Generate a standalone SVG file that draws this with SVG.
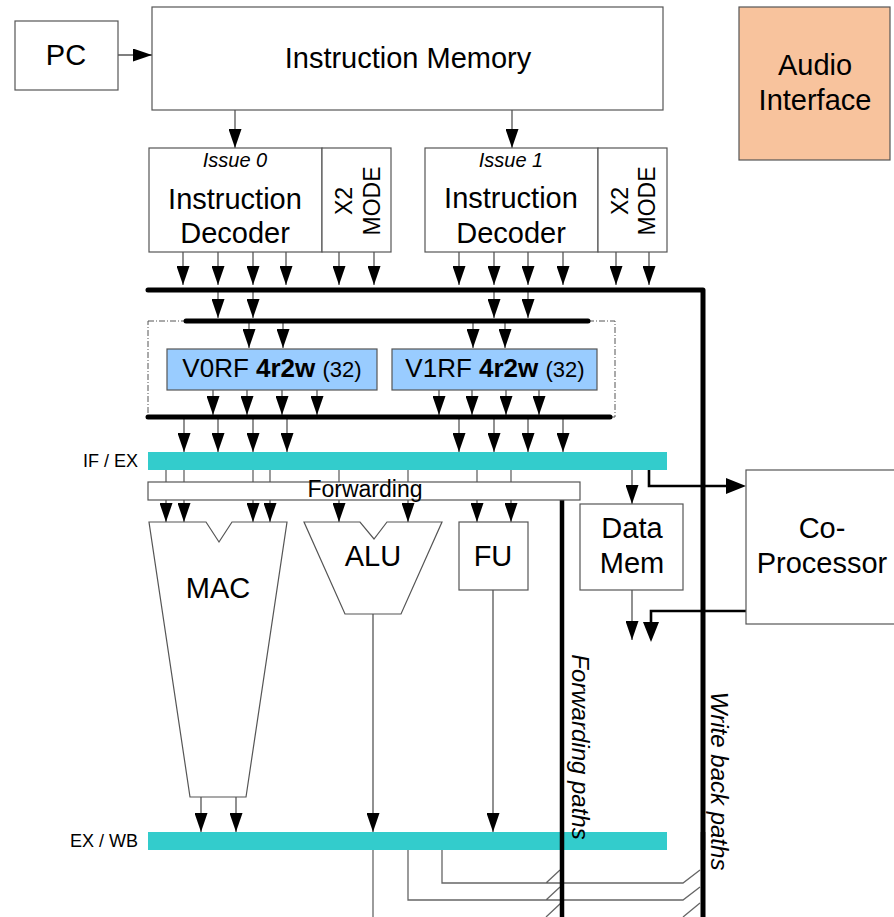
<svg xmlns="http://www.w3.org/2000/svg" width="894" height="917" viewBox="0 0 894 917">
<defs>
<marker id="ah" markerUnits="userSpaceOnUse" markerWidth="19" markerHeight="13" viewBox="0 0 19 13" refX="19" refY="6.5" orient="auto"><path d="M0,0 L19,6.5 L0,13 z" fill="#000"/></marker>
<marker id="ahb" markerUnits="userSpaceOnUse" markerWidth="20" markerHeight="16" viewBox="0 0 20 16" refX="12" refY="8" orient="auto"><path d="M0,0 L20,8 L0,16 z" fill="#000"/></marker>
<style>
.box{fill:#fff;stroke:#555;stroke-width:1.2}
.t{font-family:"Liberation Sans",Arial,sans-serif;fill:#000}
.big{font-size:29px;text-anchor:middle}
.ln{fill:none;stroke:#666;stroke-width:1.3}
.ar{fill:none;stroke:#555;stroke-width:1.3;marker-end:url(#ah)}
.arb{fill:none;stroke:#000;stroke-width:2.6;marker-end:url(#ahb)}
.bus{fill:none;stroke:#000;stroke-width:5;stroke-linecap:round;stroke-linejoin:round}
.teal{fill:#33CCCC}
.it{font-style:italic}
</style>
</defs>
<rect width="894" height="917" fill="#fff"/>

<g id="rf-frame">
<rect x="148" y="321" width="467" height="96" fill="none" stroke="#555" stroke-width="1" stroke-dasharray="6 2 1 2"/>
</g>

<g id="connectors">
<path class="ar" d="M118,55 H152"/>
<path class="ar" d="M235,110 V148"/>
<path class="ar" d="M512,110 V148"/>
<path class="ar" d="M183,252 V285"/><path class="ar" d="M218,252 V285"/><path class="ar" d="M253,252 V285"/><path class="ar" d="M286,252 V285"/><path class="ar" d="M339,252 V285"/><path class="ar" d="M374,252 V285"/>
<path class="ar" d="M459,252 V285"/><path class="ar" d="M494,252 V285"/><path class="ar" d="M528,252 V285"/><path class="ar" d="M563,252 V285"/><path class="ar" d="M616,252 V285"/><path class="ar" d="M649,252 V285"/>
<path class="ar" d="M218,290 V318"/><path class="ar" d="M253,290 V318"/><path class="ar" d="M494,290 V318"/><path class="ar" d="M528,290 V318"/>
<path class="ar" d="M249,321 V348"/><path class="ar" d="M283,321 V348"/><path class="ar" d="M473,321 V348"/><path class="ar" d="M505,321 V348"/>
<path class="ar" d="M213,390 V415"/><path class="ar" d="M247,390 V415"/><path class="ar" d="M282,390 V415"/><path class="ar" d="M317,390 V415"/>
<path class="ar" d="M439,390 V415"/><path class="ar" d="M472,390 V415"/><path class="ar" d="M506,390 V415"/><path class="ar" d="M539,390 V415"/>
<path class="ar" d="M184,417 V452"/><path class="ar" d="M218,417 V452"/><path class="ar" d="M253,417 V452"/><path class="ar" d="M287,417 V452"/>
<path class="ar" d="M459,417 V452"/><path class="ar" d="M494,417 V452"/><path class="ar" d="M528,417 V452"/><path class="ar" d="M563,417 V452"/>
<path class="ln" d="M166,470 V482 M184,470 V482 M253,470 V482 M270,470 V482 M339,470 V482 M408,470 V482 M477,470 V482 M511,470 V482"/>
<path class="ar" d="M166,500 V522"/><path class="ar" d="M184,500 V522"/><path class="ar" d="M253,500 V522"/><path class="ar" d="M270,500 V522"/>
<path class="ar" d="M339,500 V522"/><path class="ar" d="M408,500 V522"/><path class="ar" d="M477,500 V522"/><path class="ar" d="M511,500 V522"/>
<path class="ar" d="M632,470 V504"/>
<path class="ar" d="M632,590 V640"/>
<path class="ar" d="M201,797 V832"/><path class="ar" d="M236,797 V832"/>
<path class="ar" d="M373,614 V832"/>
<path class="ar" d="M493,590 V832"/>
<path class="ln" d="M373,850 V917"/>
<path class="ln" d="M442,850 V883 H683 L700,870 M546,883 L560,870"/>
<path class="ln" d="M408,850 V900 H683 L700,887 M546,900 L560,887"/>
<path class="ln" d="M546,917 L561,903 M683,917 L700,903"/>
<path class="bus" d="M148,290 H703 V920"/>
<path class="bus" d="M186,321 H588"/>
<path class="bus" d="M148,417 H610"/>
<path fill="none" stroke="#000" stroke-width="4.5" d="M562,500 V920"/>
<path class="arb" d="M649,470 V486 H738"/>
<path class="arb" d="M746,611 H651 V634"/>
</g>

<g id="pc"><rect class="box" x="15" y="21" width="103" height="69"/><text class="t big" x="66" y="65">PC</text></g>
<g id="instruction-memory"><rect class="box" x="152" y="7" width="511" height="103"/><text class="t big" x="408" y="68">Instruction Memory</text></g>
<g id="audio-interface"><rect x="739" y="7" width="151" height="153" fill="#F8C39D" stroke="#555" stroke-width="1.2"/><text class="t big" x="815" y="75">Audio</text><text class="t big" x="815" y="110">Interface</text></g>

<g id="decoder0"><rect class="box" x="149" y="148" width="173" height="104"/>
<text class="t it" x="235" y="167" font-size="20" text-anchor="middle">Issue 0</text>
<text class="t big" x="235" y="209">Instruction</text><text class="t big" x="235" y="243">Decoder</text></g>
<g id="x2mode0"><rect class="box" x="322" y="148" width="69" height="104"/>
<text class="t" font-size="23" text-anchor="middle" transform="translate(352,201) rotate(-90)">X2</text>
<text class="t" font-size="23" text-anchor="middle" transform="translate(380,201) rotate(-90)">MODE</text></g>
<g id="decoder1"><rect class="box" x="425" y="148" width="173" height="104"/>
<text class="t it" x="511" y="167" font-size="20" text-anchor="middle">Issue 1</text>
<text class="t big" x="511" y="208">Instruction</text><text class="t big" x="511" y="243">Decoder</text></g>
<g id="x2mode1"><rect class="box" x="598" y="148" width="69" height="104"/>
<text class="t" font-size="23" text-anchor="middle" transform="translate(628,201) rotate(-90)">X2</text>
<text class="t" font-size="23" text-anchor="middle" transform="translate(655,201) rotate(-90)">MODE</text></g>

<g id="v0rf"><rect x="167" y="349" width="210" height="41" fill="#99CCFF" stroke="#555" stroke-width="1.2"/>
<text class="t" x="272" y="377" font-size="26" text-anchor="middle">V0RF <tspan font-weight="bold">4r2w</tspan> <tspan font-size="22">(32)</tspan></text></g>
<g id="v1rf"><rect x="392" y="349" width="205" height="41" fill="#99CCFF" stroke="#555" stroke-width="1.2"/>
<text class="t" x="495" y="377" font-size="26" text-anchor="middle">V1RF <tspan font-weight="bold">4r2w</tspan> <tspan font-size="22">(32)</tspan></text></g>

<g id="if-ex"><rect class="teal" x="148" y="452" width="519" height="18"/><text class="t" x="138" y="467" font-size="18" text-anchor="end">IF / EX</text></g>
<g id="forwarding"><rect class="box" x="148" y="482" width="432" height="18"/><text class="t" x="365" y="497" font-size="23" text-anchor="middle">Forwarding</text></g>

<g id="mac"><polygon class="box" points="149,522 206,522 219,542 232,522 287,522 246,797 190,797"/><text class="t big" x="218" y="598">MAC</text></g>
<g id="alu"><polygon class="box" points="304,522 360,522 374,539 387,522 442,522 401,614 345,614"/><text class="t big" x="373" y="566">ALU</text></g>
<g id="fu"><rect class="box" x="459" y="522" width="69" height="68"/><text class="t big" x="493" y="566">FU</text></g>
<g id="data-mem"><rect class="box" x="580" y="504" width="103" height="86"/><text class="t big" x="632" y="538">Data</text><text class="t big" x="632" y="573">Mem</text></g>
<g id="co-processor"><rect class="box" x="746" y="470" width="160" height="154"/><text class="t big" x="822" y="538">Co-</text><text class="t big" x="822" y="573">Processor</text></g>

<g id="ex-wb"><rect class="teal" x="148" y="832" width="519" height="18"/><text class="t" x="138" y="847" font-size="18" text-anchor="end">EX / WB</text></g>
<path fill="none" stroke="#000" stroke-width="4.5" d="M562,832 V850"/>
<path fill="none" stroke="#000" stroke-width="4.5" d="M703,832 V850"/>

<g id="labels">
<text class="t it" font-size="24" text-anchor="middle" transform="translate(572,747) rotate(90)">Forwarding paths</text>
<text class="t it" font-size="24" text-anchor="middle" transform="translate(711,781) rotate(90)">Write back paths</text>
</g>
</svg>
